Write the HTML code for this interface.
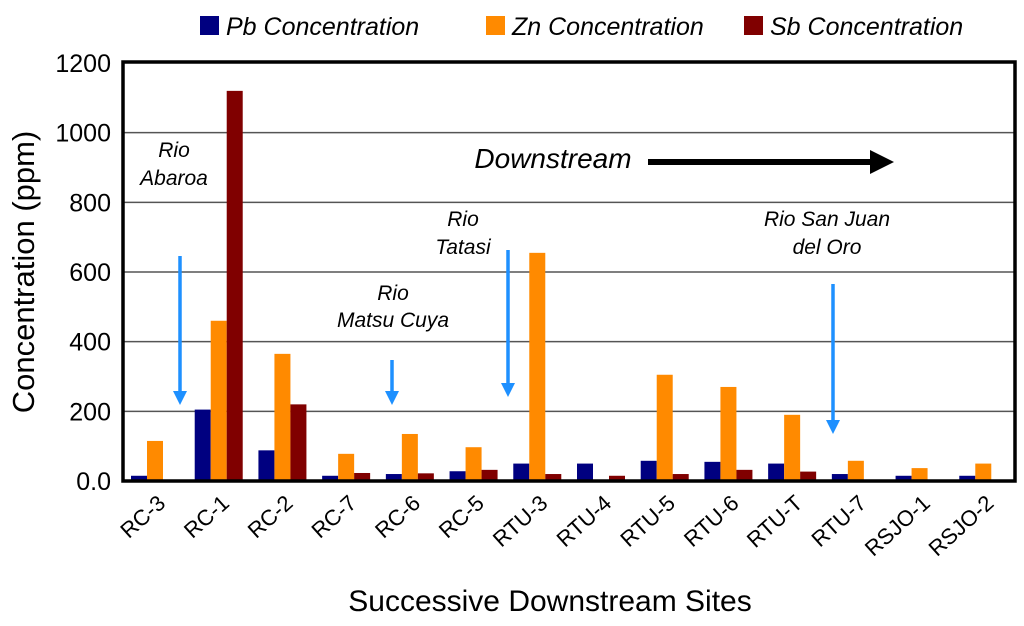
<!DOCTYPE html>
<html><head><meta charset="utf-8"><style>
body{margin:0;background:#fff}
svg text{font-family:"Liberation Sans",sans-serif}
</style></head><body>
<svg id="c" width="1024" height="621" xmlns="http://www.w3.org/2000/svg"></svg>
<script>
const categories=["RC-3","RC-1","RC-2","RC-7","RC-6","RC-5","RTU-3","RTU-4","RTU-5","RTU-6","RTU-T","RTU-7","RSJO-1","RSJO-2"];
const pbValues=[15,205,88,15,20,28,50,50,58,55,50,20,15,15];
const znValues=[115,460,365,78,135,97,655,0,305,270,190,58,37,50];
const sbValues=[3,1120,220,23,22,32,20,15,20,32,27,0,0,0];
const yTicks=[0,200,400,600,800,1000,1200];
const tickLabels=["0.0","200","400","600","800","1000","1200"];
const NS="http://www.w3.org/2000/svg",svg=document.getElementById('c');
const L=123,R=1015,T=63,B=481;
const y=v=>B-(v/1200)*(B-T);
const gw=(R-L)/categories.length;
const x=i=>L+i*gw;
function el(t,a,p){const e=document.createElementNS(NS,t);for(const k in a)e.setAttribute(k,a[k]);(p||svg).appendChild(e);return e;}
yTicks.forEach((v,i)=>{
 if(v>0&&v<1200){const g=el('line',{x1:L,x2:R,y1:y(v),y2:y(v),stroke:'#555','stroke-width':1.5});
 
 }
 const t=el('text',{x:L-12,y:y(v)+9,'text-anchor':'end','font-size':25});t.textContent=tickLabels[i];
 
 
});
const series=[[pbValues,'#000080','pb'],[znValues,'#ff8a00','zn'],[sbValues,'#800000','sb']];
categories.forEach((c,i)=>{
 series.forEach((s,j)=>{
  const v=s[0][i];
  const r=el('rect',{x:x(i)+8+j*16,y:y(v),width:16,height:B-y(v),fill:s[1]});
  
  
 });
 const cx=x(i)+gw/2+12;
 const t=el('text',{x:cx,y:B+24,'text-anchor':'end','font-size':22,transform:`rotate(-42 ${cx} ${B+24})`});
 t.textContent=c;
 
 
});
</script>
<svg width="1024" height="621" style="position:absolute;left:0;top:0" xmlns="http://www.w3.org/2000/svg">
<defs>
<marker id="bh" markerWidth="4" markerHeight="4" refX="2" refY="2" orient="auto" markerUnits="strokeWidth"><path d="M0,0 L4,2 L0,4 z" fill="#1e90ff"/></marker>
<marker id="kh" markerWidth="4" markerHeight="4" refX="2" refY="2" orient="auto" markerUnits="strokeWidth"><path d="M0,0 L4,2 L0,4 z" fill="#000"/></marker>
</defs>
<rect x="123" y="62" width="892" height="419" fill="none" stroke="#000" stroke-width="3.5"/>
<g font-family="Liberation Sans" font-style="italic" font-size="25">
<rect x="200" y="16" width="19" height="19" fill="#000080"/>
<text x="226" y="35">Pb Concentration</text>
<rect x="486" y="16" width="19" height="19" fill="#ff8a00"/>
<text x="512" y="35">Zn Concentration</text>
<rect x="744" y="16" width="19" height="19" fill="#800000"/>
<text x="770" y="35">Sb Concentration</text>
</g>
<text x="34" y="272" font-size="31" text-anchor="middle" transform="rotate(-90 34 272)" font-family="Liberation Sans">Concentration (ppm)</text>
<text x="550" y="611" font-size="30" text-anchor="middle" font-family="Liberation Sans">Successive Downstream Sites</text>
<g font-family="Liberation Sans" font-style="italic" font-size="21" text-anchor="middle">
<text x="174" y="157">Rio</text><text x="174" y="185">Abaroa</text>
<text x="393" y="300">Rio</text><text x="393" y="327">Matsu Cuya</text>
<text x="463" y="226">Rio</text><text x="463" y="254">Tatasi</text>
<text x="827" y="226">Rio San Juan</text><text x="827" y="254">del Oro</text>
<text x="553" y="168" font-size="28">Downstream</text>
</g>
<line x1="648" y1="162" x2="882" y2="162" stroke="#000" stroke-width="6" marker-end="url(#kh)"/>
<g stroke="#1e90ff" stroke-width="3.5">
<line x1="180" y1="256" x2="180" y2="398" marker-end="url(#bh)"/>
<line x1="392" y1="360" x2="392" y2="398" marker-end="url(#bh)"/>
<line x1="508" y1="250" x2="508" y2="390" marker-end="url(#bh)"/>
<line x1="833" y1="284" x2="833" y2="427" marker-end="url(#bh)"/>
</g>
</svg>
</body></html>
